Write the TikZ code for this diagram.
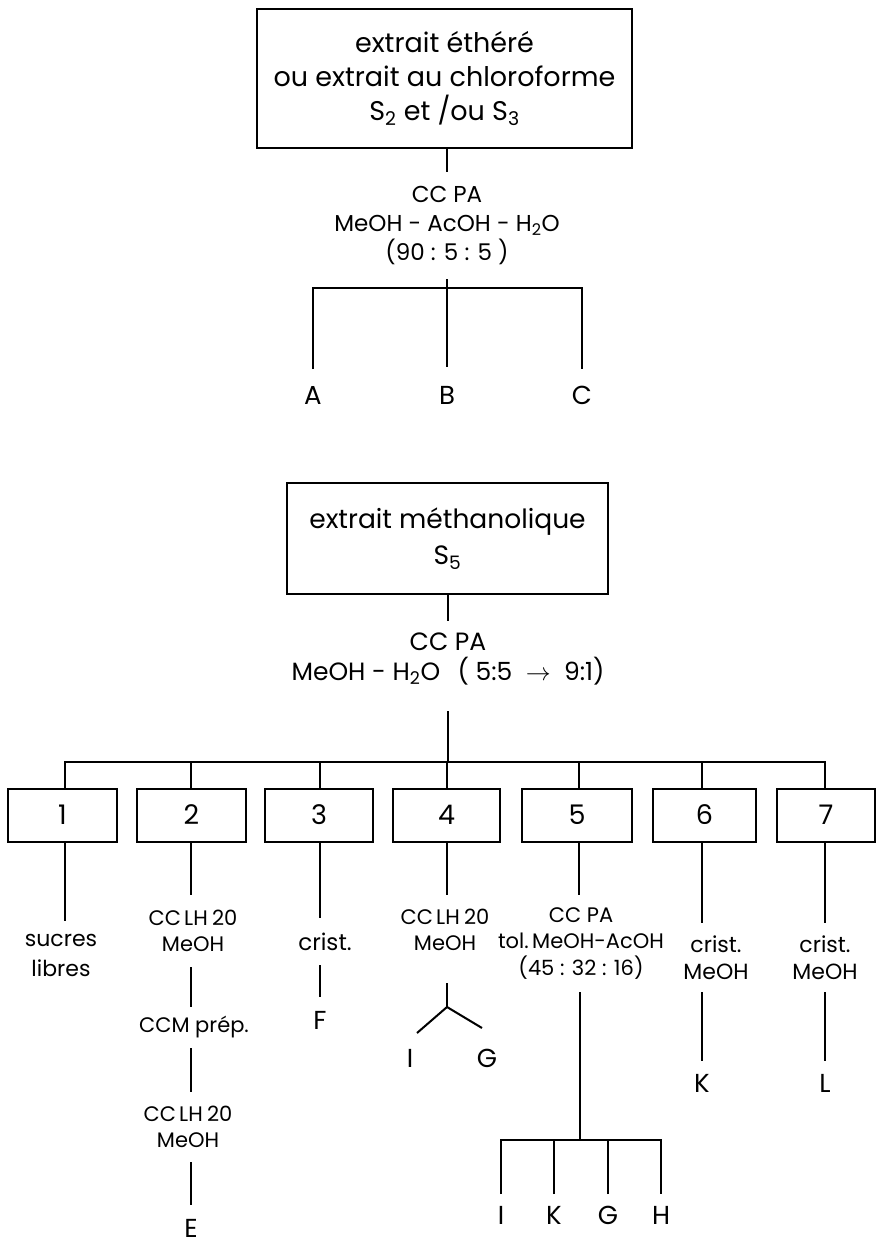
\documentclass[tikz,border=0pt]{standalone}
\usepackage{fontspec}
\setmainfont{Poppins}
\begin{document}
\begin{tikzpicture}[x=1pt,y=-1pt,line width=2pt,
  bigbox/.style={draw,inner sep=0pt,align=center},
  numbox/.style={draw,inner sep=0pt,minimum width=106pt,minimum height=53pt,font=\fontsize{27}{30}\selectfont},
  midtxt/.style={inner sep=0pt,align=center,font=\fontsize{23}{29}\selectfont},
  smalltxt/.style={inner sep=0pt,align=center,font=\fontsize{21}{26.5}\selectfont},
  leaf/.style={inner sep=0pt,font=\fontsize{26}{28}\selectfont}]
\useasboundingbox (0,0) rectangle (880,1244);
% ---------- upper scheme ----------
\node[bigbox,minimum width=375pt,minimum height=139pt,font=\fontsize{27}{34}\selectfont] (top) at (444.5,78.5)
  {extrait éthéré\\ou extrait au chloroforme\\S\textsubscript{2} et /ou S\textsubscript{3}};
\node[midtxt,minimum height=105pt] (cc1) at (447,225.5)
  {CC PA\\MeOH - AcOH - H\textsubscript{2}O\\(90 : 5 : 5 )};
\coordinate (j1) at (447,288);
\node[leaf,minimum height=50pt] (A) at (313,395) {A};
\node[leaf,minimum height=54pt] (B) at (447,395) {B};
\node[leaf,minimum height=50pt] (C) at (582,395) {C};
\draw (top.south -| cc1.north) -- (cc1.north);
\draw (cc1.south) -- (B.north);
\draw (A.north) -- (A.north |- j1) -- (C.north |- j1) -- (C.north);
% ---------- lower scheme ----------
\node[bigbox,minimum width=321pt,minimum height=111pt,font=\fontsize{26.5}{36}\selectfont] (meth) at (447.5,538.5)
  {extrait méthanolique\\S\textsubscript{5}};
\node[midtxt,font=\fontsize{25}{30}\selectfont,minimum height=74pt] (cc2) at (448,659)
  {CC PA\\MeOH - H\textsubscript{2}O \ \,( 5:5 \ $\rightarrow$ \ 9:1)};
\coordinate (br) at (448,762);
\draw (meth.south -| cc2.north) -- (cc2.north);
\draw[shorten <=14pt] (cc2.south) -- (br);
% boxes
\node[numbox,minimum width=109pt] (b1) at (62.5,815) {1};
\node[numbox,minimum width=109pt] (b2) at (191.5,815) {2};
\node[numbox,minimum width=108pt] (b3) at (319,815) {3};
\node[numbox,minimum width=107pt] (b4) at (446.5,815) {4};
\node[numbox,minimum width=110pt] (b5) at (577,815) {5};
\node[numbox,minimum width=103pt] (b6) at (704.5,815) {6};
\node[numbox,minimum width=98pt] (b7) at (826,815) {7};
\coordinate (x1) at (65,788);
\coordinate (x7) at (825,788);
\draw (x1) -- (x1 |- br) -- (x7 |- br) -- (x7);
\foreach \b/\xx in {b2/191,b3/320,b4/447,b5/579,b6/702}
  \draw (\b.north -| \xx,0) -- (\xx,762);
% column 1
\node[smalltxt,font=\fontsize{22}{30}\selectfont,minimum height=66pt] (t1) at (61,955) {sucres\\libres};
\draw (b1.south -| x1) -- (x1 |- t1.north);
% column 2
\node[smalltxt,minimum height=72pt] (t2a) at (193,931) {CC\hspace{0.15em}LH\hspace{0.2em}20\\MeOH};
\node[smalltxt,minimum height=41pt] (t2b) at (194,1027.5) {CCM prép.};
\node[smalltxt,minimum height=70pt] (t2c) at (188,1127) {CC\hspace{0.15em}LH\hspace{0.2em}20\\MeOH};
\node[leaf,minimum height=44pt] (E) at (191,1228) {E};
\draw (b2.south -| 191,0) -- (191,895);
\draw (191,967) -- (191,1007);
\draw (191,1048) -- (191,1092);
\draw (191,1162) -- (191,1205);
% column 3
\node[smalltxt,font=\fontsize{23}{26.5}\selectfont,minimum height=47pt] (t3) at (325,941.5) {crist.};
\node[leaf,minimum height=46pt] (F) at (320,1020) {F};
\draw (b3.south -| 320,0) -- (320,918);
\draw (320,965) -- (320,997);
% column 4
\node[smalltxt,minimum height=70pt] (t4) at (445,930) {CC\hspace{0.15em}LH\hspace{0.2em}20\\MeOH};
\coordinate (f4) at (447,1007);
\coordinate (fI) at (417,1033);
\coordinate (fG) at (482,1028);
\node[leaf] (I1) at (410,1058) {I};
\node[leaf] (G1) at (487,1058) {G};
\draw (b4.south -| 447,0) -- (447,895);
\draw (447,983) -- (f4);
\draw (fI) -- (f4) -- (fG);
% column 5
\node[smalltxt,minimum height=97pt] (t5) at (581,943.5) {CC PA\\tol.\,MeOH-AcOH\\(45 : 32 : 16)};
\coordinate (j5) at (580,1140);
\node[leaf,minimum height=40pt] (I2) at (501,1215) {I};
\node[leaf,minimum height=40pt] (K2) at (554,1215) {K};
\node[leaf,minimum height=40pt] (G2) at (608,1215) {G};
\node[leaf,minimum height=40pt] (H2) at (661,1215) {H};
\draw (b5.south -| 579,0) -- (579,895);
\draw (580,992) -- (j5);
\draw (I2.north) -- (I2.north |- j5) -- (H2.north |- j5) -- (H2.north);
\draw (K2.north) -- (K2.north |- j5);
\draw (G2.north) -- (G2.north |- j5);
% column 6
\node[smalltxt,font=\fontsize{22}{26.5}\selectfont,minimum height=69pt] (t6) at (716,957.5) {crist.\\MeOH};
\node[leaf,minimum height=42pt] (K6) at (702,1083) {K};
\draw (b6.south -| 702,0) -- (702,923);
\draw (702,992) -- (K6.north);
% column 7
\node[smalltxt,font=\fontsize{22}{26.5}\selectfont,minimum height=69pt] (t7) at (825,957.5) {crist.\\MeOH};
\node[leaf,minimum height=42pt] (L7) at (825,1083) {L};
\draw (b7.south -| 825,0) -- (825,923);
\draw (825,992) -- (L7.north);
\end{tikzpicture}
\end{document}
